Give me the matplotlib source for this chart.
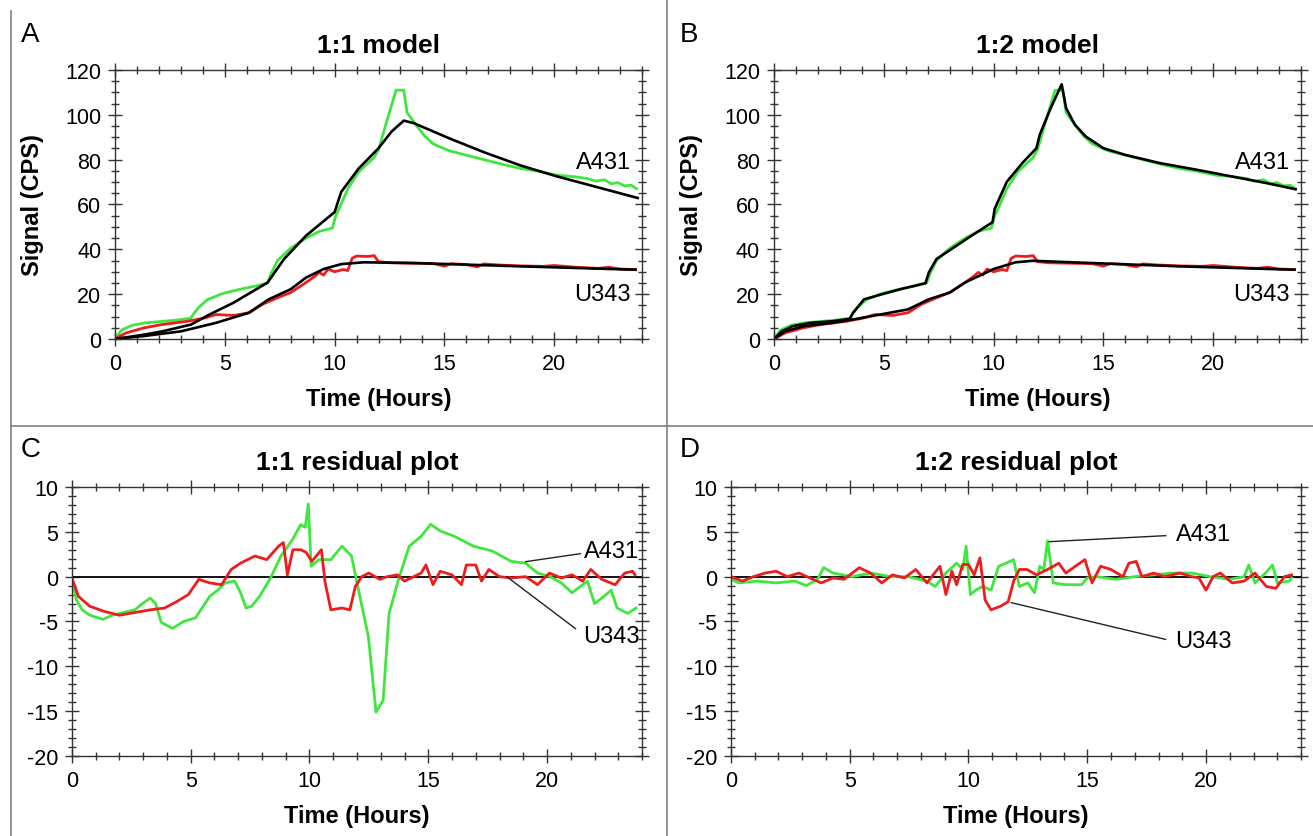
import matplotlib
matplotlib.use('Agg')
import matplotlib.pyplot as plt
from matplotlib.ticker import MultipleLocator
from matplotlib.lines import Line2D

plt.rcParams['font.family'] = ['Liberation Sans', 'DejaVu Sans']
plt.rcParams['axes.unicode_minus'] = False

# ---- measured signal (CPS) vs time (hours), same data in A and B ----
a431_t = [0, 0.3, 0.8, 1.4, 2.1, 2.9, 3.45, 3.6, 3.8, 4.2, 4.9, 5.7, 6.4, 6.95, 7.1, 7.4,
          8.0, 8.7, 9.3, 9.9, 10.05, 10.2, 10.6, 11.1, 11.8, 12.0, 12.4, 12.8, 13.15, 13.3,
          13.7, 14.1, 14.5, 15.2, 16.0, 16.8, 17.6, 18.5, 19.3, 20.1, 20.9, 21.5, 21.9,
          22.3, 22.6, 22.9, 23.2, 23.5, 23.75]
a431_sig = [0, 4, 6.2, 7.2, 7.8, 8.5, 9.3, 11.5, 14, 17.5, 20.3, 22.2, 23.6, 25, 29, 35,
            40.5, 45, 48, 49.5, 55, 58, 67, 74.6, 81, 84.5, 98, 111, 111, 101,
            95.6, 90.5, 87, 84, 82, 80, 78, 76, 74.8, 73.1, 72.4, 71.6, 70.4,
            71, 69.2, 69.8, 68.3, 68.6, 67]

u343_t = [0, 0.5, 1.3, 2.1, 3.3, 4.1, 4.6, 5.4, 6.1, 6.7, 7.4, 8.0, 8.7, 9.1, 9.3, 9.5,
          9.7, 10.0, 10.4, 10.6, 10.8, 11.0, 11.5, 11.8, 12.0, 12.5, 13.5, 14.5, 15.0,
          15.3, 16.0, 16.5, 16.8, 17.5, 18.5, 19.5, 20.0, 21.0, 22.0, 22.5, 23.0, 23.7]
u343_sig = [0, 2.7, 4.9, 6.4, 7.9, 9.4, 10.9, 10.5, 11.7, 15.4, 18.4, 20.7, 25.2, 28, 29.7, 28.5,
            31.2, 30, 31, 30.5, 36, 37, 36.8, 37.2, 34.5, 34, 33.8, 33.6, 32.5,
            33.6, 33.2, 32.2, 33.5, 33, 32.6, 32.4, 32.8, 32, 31.5, 32, 31.2, 31]

# ---- 1:1 model fits ----
fit11_a431_t = [0, 1.3, 2.15, 3.45, 4.3, 5.4, 6.95, 7.7, 8.7, 10.0, 10.3, 11.1, 12.0, 12.6,
                13.15, 13.6, 15.2, 16.8, 18.5, 20.1, 21.7, 23.8]
fit11_a431 = [0, 1.9, 3.4, 6.4, 10.9, 16.2, 25.2, 35.7, 46.1, 56.6, 65.6, 76.1, 85.1, 92.6,
              97.4, 96.3, 89.6, 83.3, 77.3, 72.6, 68.4, 62.9]
fit11_u343_t = [0, 1.3, 3.0, 4.6, 6.1, 7.0, 8.0, 8.7, 9.5, 10.3, 11.3, 13.6, 18.5, 23.7]
fit11_u343 = [0, 1.3, 3.4, 7.2, 11.7, 17.7, 22.2, 27.4, 31.2, 33.4, 34.2, 33.9, 32.4, 30.9]

# ---- 1:2 model fits ----
fit12_a431_t = [0, 0.35, 0.85, 1.65, 2.65, 3.45, 3.6, 4.1, 4.9, 5.75, 6.9, 7.05, 7.4, 8.2,
                9.0, 9.95, 10.05, 10.6, 11.3, 11.95, 12.1, 12.6, 13.1, 13.3, 13.7, 14.2,
                15.0, 16.0, 17.6, 19.3, 20.9, 22.5, 23.75]
fit12_a431 = [0, 3.4, 5.7, 7.2, 7.9, 9.0, 11.7, 17.7, 19.9, 22.2, 24.9, 29.7, 35.7, 40.9,
              46.1, 52.1, 58.1, 70.1, 78.4, 85.1, 91.1, 103, 113.6, 103, 95.6, 90.3,
              85.1, 82.1, 78.4, 75.4, 72.4, 69.4, 66.8]
fit12_u343_t = [0, 0.5, 1.35, 2.65, 3.6, 6.1, 7.05, 8.0, 8.7, 10.0, 11.0, 11.8, 13.6, 18.5, 23.7]
fit12_u343 = [0, 3.4, 5.7, 7.2, 8.7, 13.2, 17.7, 20.7, 25.2, 31.2, 34.2, 34.9, 34.2, 32.4, 30.9]

# ---- residuals, 1:1 model ----
res11_a431_t = [0, 0.19, 0.43, 0.75, 1.3, 1.7, 2.17, 2.65, 2.97, 3.3, 3.52, 3.76, 4.23, 4.7,
                5.2, 5.8, 6.14, 6.45, 6.85, 7.1, 7.33, 7.56, 7.9, 8.36, 8.8, 9.3, 9.63,
                9.82, 9.95, 10.07, 10.4, 10.9, 11.37, 11.77, 12.0, 12.48, 12.8, 13.1, 13.35,
                13.75, 14.2, 14.7, 15.1, 15.5, 16.1, 16.9, 17.7, 18.5, 19.1, 19.6, 20.1,
                20.6, 21.05, 21.7, 22.0, 22.4, 22.7, 22.95, 23.4, 23.75]
res11_a431 = [-0.3, -2.6, -3.7, -4.3, -4.76, -4.3, -4.0, -3.7, -3.0, -2.4, -3.0, -5.1, -5.77, -5.0,
              -4.6, -2.2, -1.5, -0.7, -0.5, -1.8, -3.5, -3.3, -2.2, -0.15, 2.3, 4.2, 5.8,
              5.5, 8.1, 1.16, 1.9, 1.9, 3.4, 2.3, -0.7, -6.7, -15.1, -13.8, -4.1,
              -0.3, 3.4, 4.5, 5.84, 5.1, 4.5, 3.4, 2.85, 1.7, 1.5, 0.4, 0.04,
              -0.7, -1.8, -0.5, -3.0, -2.2, -1.5, -3.5, -4.1, -3.5]
res11_u343_t = [0, 0.27, 0.75, 1.38, 2.0, 2.65, 3.3, 3.9, 4.4, 4.9, 5.34, 5.8, 6.3, 6.7, 7.1,
                7.7, 8.2, 8.7, 8.9, 9.07, 9.3, 9.63, 9.86, 10.1, 10.5, 10.66, 10.9, 11.37,
                11.7, 11.93, 12.2, 12.5, 12.96, 13.27, 13.7, 14.0, 14.7, 14.9, 15.2, 15.5,
                16.0, 16.4, 16.6, 17.0, 17.24, 17.55, 18.0, 18.5, 19.1, 19.6, 20.1, 20.6,
                21.05, 21.5, 21.84, 22.3, 22.87, 23.27, 23.6, 23.7]
res11_u343 = [-0.15, -2.2, -3.3, -3.9, -4.3, -4.0, -3.7, -3.5, -2.8, -2.0, -0.3, -0.7, -0.9, 0.8, 1.5,
              2.3, 1.9, 3.4, 3.8, 0.2, 3.0, 3.0, 2.7, 1.7, 3.0, -0.7, -3.7, -3.5,
              -3.7, -1.1, 0, 0.4, -0.3, 0, 0.2, -0.5, 0.4, 1.3, -0.9, 0.6,
              0.2, -0.9, 1.3, 1.3, -0.5, 0.8, 0, -0.15, 0, -0.9, 0.4, -0.15,
              0.2, -0.5, 0.8, -0.3, -0.9, 0.4, 0.6, 0.2]

# ---- residuals, 1:2 model ----
res12_a431_t = [0, 0.32, 1.1, 1.9, 2.7, 3.17, 3.65, 3.9, 4.3, 5.1, 5.9, 6.7, 7.46, 8.25, 8.6,
                9.05, 9.5, 9.76, 9.9, 10.08, 10.3, 10.6, 10.95, 11.27, 11.75, 11.9, 12.14,
                12.5, 12.78, 13.0, 13.17, 13.33, 13.57, 14.1, 14.76, 15.0, 15.4, 16.2, 17.0,
                17.8, 18.57, 19.4, 20.16, 21.0, 21.6, 21.8, 22.06, 22.5, 22.8, 23.0, 23.5, 23.6]
res12_a431 = [-0.3, -0.7, -0.5, -0.7, -0.5, -1.0, -0.3, 1.0, 0.4, 0, 0.4, 0, 0, -0.5, -1.1,
              0.4, 1.5, 0.8, 3.4, -2.0, -1.5, -1.1, -1.5, 1.16, 1.7, 1.9, -1.1,
              -0.7, -1.8, 1.16, 0.8, 4.0, -0.7, -0.9, -0.9, -0.15, 0, -0.3, 0,
              0.2, 0.4, 0.4, 0, -0.3, 0, 1.3, -0.7, 0.4, 1.3, -0.7, -0.5, -0.15]
res12_u343_t = [0, 0.48, 0.95, 1.43, 1.9, 2.38, 2.86, 3.33, 3.8, 4.3, 4.76, 5.4, 5.87, 6.35,
                6.8, 7.3, 7.78, 8.25, 8.57, 8.8, 9.05, 9.3, 9.5, 9.76, 10.0, 10.24, 10.48,
                10.7, 10.95, 11.35, 11.67, 11.9, 12.14, 12.46, 12.86, 13.33, 13.8, 14.1,
                14.5, 14.9, 15.2, 15.56, 16.0, 16.5, 16.75, 17.06, 17.3, 17.8, 18.25, 18.9,
                19.4, 19.7, 20.0, 20.3, 20.6, 21.1, 21.6, 22.06, 22.54, 22.94, 23.3, 23.6]
res12_u343 = [0, -0.5, 0, 0.4, 0.6, 0, 0.4, -0.15, -0.7, -0.15, -0.3, 1.0, 0.4, -0.7,
              0.2, -0.15, 0.8, -0.7, 0.4, 1.16, -2.0, 0.6, -0.9, 1.35, 1.35, 0.2, 2.1,
              -2.6, -3.7, -3.3, -2.8, -0.5, 0.8, 0.8, 0.2, 0.8, 1.5, 0.4,
              1.16, 1.9, -0.7, 1.16, 0.8, 0, 1.5, 1.7, 0, 0.4, 0, 0.4,
              0, -0.15, -1.5, 0, 0.4, -0.7, -0.5, 0.4, -1.1, -1.3, 0, 0.2]

GREEN = '#3ee63e'
RED = '#ee1d1d'

fig = plt.figure(figsize=(13.13, 8.37), dpi=100)
axA = fig.add_axes([0.0876, 0.5938, 0.4014, 0.3214])
axB = fig.add_axes([0.5895, 0.5938, 0.4014, 0.3214])
axC = fig.add_axes([0.0548, 0.0956, 0.4342, 0.3214])
axD = fig.add_axes([0.5567, 0.0956, 0.4342, 0.3214])


def style(ax, ymaj, ymin):
    ax.set_xlim(0, 24)
    ax.xaxis.set_major_locator(MultipleLocator(5))
    ax.xaxis.set_minor_locator(MultipleLocator(1))
    ax.yaxis.set_major_locator(MultipleLocator(ymaj))
    ax.yaxis.set_minor_locator(MultipleLocator(ymin))
    ax.tick_params(which='both', direction='inout', top=True, right=True,
                   labelsize=15.5, color='#333333', width=1)
    ax.tick_params(which='major', length=10, pad=5)
    ax.tick_params(which='minor', length=6)
    for s in ax.spines.values():
        s.set_color('#333333')
        s.set_linewidth(1)
    ax.set_xlabel('Time (Hours)', fontsize=17, fontweight='bold')
    ax.xaxis.set_label_coords(0.5, -0.18)
    ax.xaxis.label.set_va('top')


# A: 1:1 model
axA.plot(a431_t, a431_sig, color=GREEN, lw=2)
axA.plot(u343_t, u343_sig, color=RED, lw=2)
axA.plot(fit11_a431_t, fit11_a431, color='black', lw=1.9)
axA.plot(fit11_u343_t, fit11_u343, color='black', lw=1.9)

# B: 1:2 model
axB.plot(a431_t, a431_sig, color=GREEN, lw=2)
axB.plot(u343_t, u343_sig, color=RED, lw=2)
axB.plot(fit12_a431_t, fit12_a431, color='black', lw=1.9)
axB.plot(fit12_u343_t, fit12_u343, color='black', lw=1.9)

for ax, title in [(axA, '1:1 model'), (axB, '1:2 model')]:
    style(ax, 20, 5)
    ax.set_ylim(0, 120)
    ax.set_title(title, fontsize=19, fontweight='bold', pad=13)
    ax.set_ylabel('Signal (CPS)', fontsize=17, fontweight='bold')
    ax.yaxis.set_label_coords(-0.135, 0.5)
    ax.text(23.5, 79, 'A431', fontsize=17, ha='right', va='center')
    ax.text(23.5, 20, 'U343', fontsize=17, ha='right', va='center')

# C: 1:1 residuals
axC.axhline(0, color='black', lw=1.3)
axC.plot(res11_a431_t, res11_a431, color=GREEN, lw=2)
axC.plot(res11_u343_t, res11_u343, color=RED, lw=2)
axC.plot([19.1, 21.4], [1.67, 2.56], color='#222222', lw=1)
axC.plot([18.3, 21.2], [0, -5.8], color='#222222', lw=1)
axC.text(21.55, 2.9, 'A431', fontsize=17, ha='left', va='center')
axC.text(21.5, -6.6, 'U343', fontsize=17, ha='left', va='center')

# D: 1:2 residuals
axD.axhline(0, color='black', lw=1.3)
axD.plot(res12_a431_t, res12_a431, color=GREEN, lw=2)
axD.plot(res12_u343_t, res12_u343, color=RED, lw=2)
axD.plot([13.4, 18.3], [3.9, 4.57], color='#222222', lw=1)
axD.plot([11.8, 18.3], [-2.9, -7.0], color='#222222', lw=1)
axD.text(18.75, 4.7, 'A431', fontsize=17, ha='left', va='center')
axD.text(18.7, -7.2, 'U343', fontsize=17, ha='left', va='center')

for ax, title in [(axC, '1:1 residual plot'), (axD, '1:2 residual plot')]:
    style(ax, 5, 1)
    ax.set_ylim(-20, 10)
    ax.set_title(title, fontsize=19, fontweight='bold', pad=13)

# panel letters and divider lines
for x, y, s in [(0.016, 0.958, 'A'), (0.518, 0.958, 'B'), (0.016, 0.462, 'C'), (0.518, 0.462, 'D')]:
    fig.text(x, y, s, fontsize=20, ha='left', va='center')

fig.add_artist(Line2D([0.508, 0.508], [0, 1], color='#808080', lw=1.2))
fig.add_artist(Line2D([0.0085, 0.0085], [0, 0.986], color='#808080', lw=1.2))
fig.add_artist(Line2D([0.0085, 1], [0.4895, 0.4895], color='#808080', lw=1.2))

fig.savefig('out.png', dpi=100)
